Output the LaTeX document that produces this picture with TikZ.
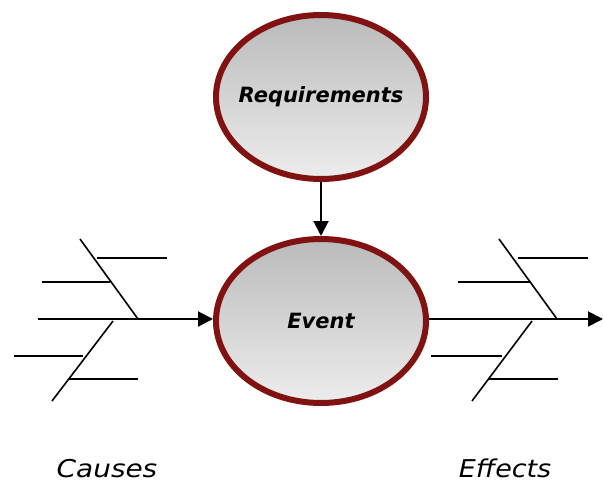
\documentclass[tikz,border=0pt]{standalone}
\usepackage{fontspec}
\newfontfamily\bubblefont{DejaVu Sans}
\usetikzlibrary{arrows.meta,shapes.geometric}
\definecolor{rim}{RGB}{128,18,18}

\begin{document}
\begin{tikzpicture}[x=1pt,y=-1pt,
  bubble/.style={ellipse,draw=rim,line width=6pt,top color=black!27,bottom color=black!7,
    minimum width=210pt,minimum height=164pt,inner xsep=-12pt,inner ysep=0pt,
    font=\bubblefont\bfseries\itshape\fontsize{21}{24}\selectfont},
  bone/.style={line width=2.6pt},
  spine/.style={line width=1.6pt},
  flow/.style={line width=2pt,-{Triangle[length=15pt,width=15pt]}},
  tag/.style={anchor=base,inner sep=0pt,font=\bubblefont\itshape\fontsize{24.5}{28}\selectfont}]
\useasboundingbox (0,0) rectangle (603,482);

% Ellipses
\node[bubble] (req) at (321,97) {Requirements};
\node[bubble] (event) at (321,321) {Event};
\draw[flow] (req) -- (event);

% Causes side
\coordinate (causes start) at (38,319);
\draw[flow] (causes start) -- (causes start -| event.west);
\draw[spine] (80,239) -- (138,319);
\draw[spine] (113,321) -- (52,401);
\draw[bone] (97,258) -- (167,258);
\draw[bone] (42,282) -- (110,282);
\draw[bone] (14,356) -- (83,356);
\draw[bone] (68,379) -- (138,379);

% Effects side
\coordinate (effects end) at (603,319);
\draw[flow] (effects end -| event.east) -- (effects end);
\draw[spine] (499,239) -- (557,319);
\draw[spine] (532,321) -- (472,401);
\draw[bone] (518,258) -- (588,258);
\draw[bone] (458,282) -- (530,282);
\draw[bone] (431,356) -- (502,356);
\draw[bone] (488,379) -- (558,379);

% Labels
\node[tag] (causes) at (107,477) {\scalebox{1.14}[1]{Causes}};
\node[tag] (effects) at (505,477) {\scalebox{1.1}[1]{Effects}};
\end{tikzpicture}
\end{document}
